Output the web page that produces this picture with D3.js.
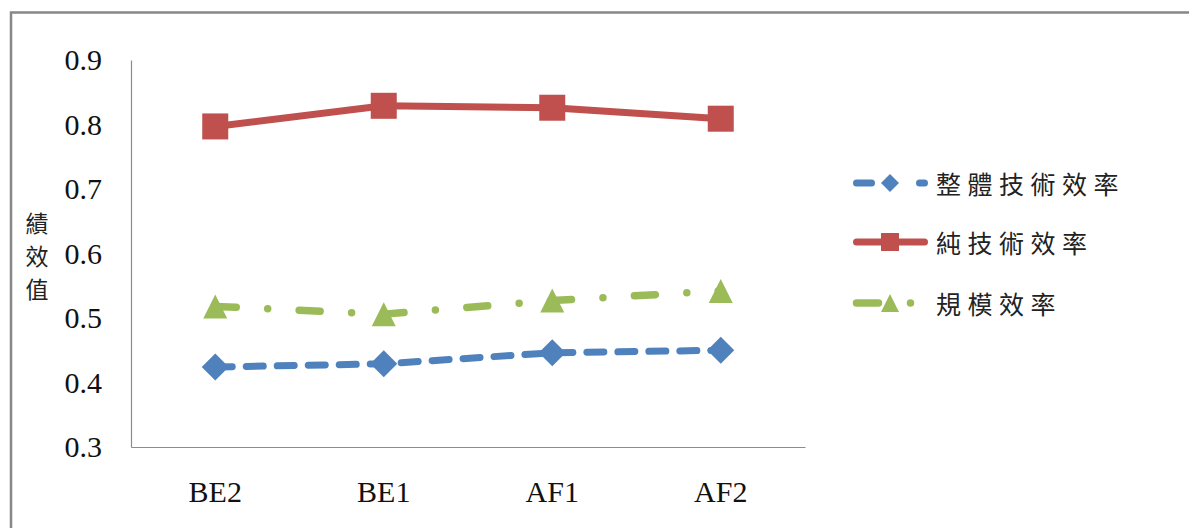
<!DOCTYPE html>
<html>
<head>
<meta charset="utf-8">
<script src="https://cdn.jsdelivr.net/npm/d3@7"></script>
<style>
  html, body { margin: 0; padding: 0; background: #fff; }
  svg { display: block; }
</style>
</head>
<body>
<svg id="chart" width="1189" height="528"></svg>
<script>
// Periods and efficiency scores
const categories = ["BE2", "BE1", "AF1", "AF2"];
const overallEff = [0.424, 0.429, 0.446, 0.450];   // 整體技術效率
const pureEff    = [0.797, 0.829, 0.826, 0.809];   // 純技術效率
const scaleEff   = [0.518, 0.506, 0.527, 0.542];   // 規模效率
const yTicks = [0.3, 0.4, 0.5, 0.6, 0.7, 0.8, 0.9];
const seriesNames = ["整體技術效率", "純技術效率", "規模效率"];
const yTitle = "績效值";

const svg = d3.select("#chart");
const W = 1189, H = 528;

// outer frame
svg.append("rect")
  .attr("x", 11).attr("y", 12.5)
  .attr("width", W + 20).attr("height", H + 20)
  .attr("fill", "#fff").attr("stroke", "#878787").attr("stroke-width", 2.5);

const plot = { left: 131, right: 805, top: 60, bottom: 447 };

const x = d3.scaleBand().domain(categories).range([plot.left, plot.right]);
const cx = c => x(c) + x.bandwidth() / 2;
const y = d3.scaleLinear().domain([0.3, 0.9]).range([plot.bottom, plot.top]);

// y axis
const yAxis = d3.axisLeft(y).tickValues(yTicks).tickSize(0).tickPadding(29)
  .tickFormat(d3.format(".1f"));
const gy = svg.append("g").attr("transform", `translate(${plot.left},0)`).call(yAxis);
gy.select(".domain").attr("stroke", "#8c8c8c").attr("stroke-width", 1.2);
gy.selectAll("text")
  .attr("font-family", "'Liberation Serif', 'Times New Roman', serif")
  .attr("font-size", 30).attr("fill", "#111");

// x axis
const xAxis = d3.axisBottom(x).tickSize(0).tickPadding(34);
const gx = svg.append("g").attr("transform", `translate(0,${plot.bottom})`).call(xAxis);
gx.select(".domain").attr("stroke", "#8c8c8c").attr("stroke-width", 1.2);
gx.selectAll("text")
  .attr("font-family", "'Liberation Serif', 'Times New Roman', serif")
  .attr("font-size", 30).attr("fill", "#111");

// vertical y-axis title
svg.append("g").selectAll("text")
  .data(Array.from(yTitle))
  .join("text")
  .attr("x", 37)
  .attr("y", (d, i) => 222 + i * 33)
  .attr("text-anchor", "middle")
  .attr("dominant-baseline", "central")
  .attr("font-family", "'Noto Sans CJK TC', sans-serif")
  .attr("font-size", 23)
  .attr("fill", "#222")
  .text(d => d);

// marker shapes
function marker(g, type, px, py, s, color) {
  if (type === "square") {
    g.append("rect").attr("x", px - s / 2).attr("y", py - s / 2)
      .attr("width", s).attr("height", s).attr("fill", color);
  } else if (type === "diamond") {
    const h = s / 2;
    g.append("path")
      .attr("d", `M${px},${py - h}L${px + h},${py}L${px},${py + h}L${px - h},${py}Z`)
      .attr("fill", color);
  } else {
    const h = s / 2;
    g.append("path")
      .attr("d", `M${px},${py - h}L${px + h},${py + h}L${px - h},${py + h}Z`)
      .attr("fill", color);
  }
}

const series = [
  { name: seriesNames[0], values: overallEff, color: "#4F81BD", type: "diamond", size: 27,
    width: 7, dash: "17 14", legendDash: "15 48 6" },
  { name: seriesNames[1], values: pureEff, color: "#C0504D", type: "square", size: 26,
    width: 7, dash: null, legendDash: null },
  { name: seriesNames[2], values: scaleEff, color: "#9BBB59", type: "triangle", size: 24,
    width: 7.5, dash: "21 31.5 0 31.5", legendDash: "22 32 0 100" }
];

const line = d3.line().x(d => cx(d.c)).y(d => y(d.v));

series.forEach(s => {
  const pts = categories.map((c, i) => ({ c, v: s.values[i] }));
  const g = svg.append("g");
  g.append("path")
    .attr("d", line(pts))
    .attr("fill", "none")
    .attr("stroke", s.color)
    .attr("stroke-width", s.width)
    .attr("stroke-linecap", "round")
    .attr("stroke-linejoin", "round")
    .attr("stroke-dasharray", s.dash);
  pts.forEach(p => marker(g, s.type, cx(p.c), y(p.v), s.size, s.color));
});

// legend
const legendY = [183, 242, 303];
series.forEach((s, i) => {
  const g = svg.append("g");
  const ly = legendY[i];
  const x2 = s.type === "triangle" ? 911 : 924.5;
  g.append("line")
    .attr("x1", 856.5).attr("x2", x2).attr("y1", ly).attr("y2", ly)
    .attr("stroke", s.color).attr("stroke-width", s.width)
    .attr("stroke-linecap", "round")
    .attr("stroke-dasharray", s.legendDash);
  marker(g, s.type, 890, ly, 18, s.color);
  g.append("text")
    .attr("x", 936).attr("y", ly)
    .attr("dominant-baseline", "central")
    .attr("font-family", "'Noto Sans CJK TC', sans-serif")
    .attr("font-size", 25)
    .attr("letter-spacing", 6.5)
    .attr("fill", "#222")
    .text(s.name);
});
</script>
</body>
</html>
